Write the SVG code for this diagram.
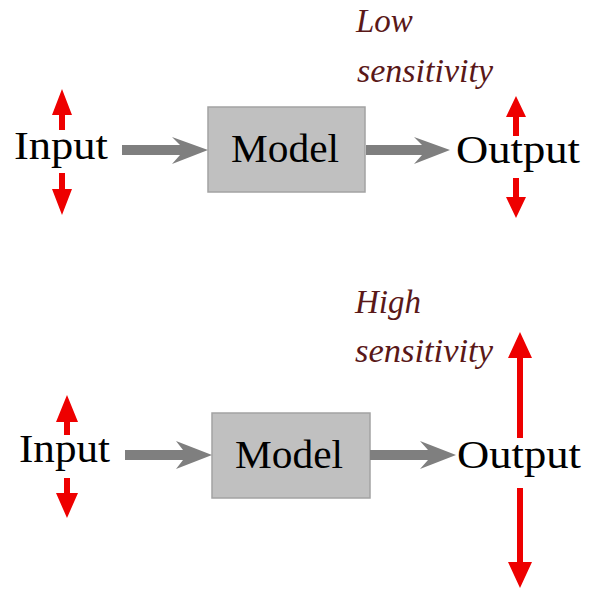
<svg xmlns="http://www.w3.org/2000/svg" width="589" height="589" viewBox="0 0 589 589">
<style>
.lbl{font-size:39px;fill:#000}
.sens{font-style:italic;font-size:33px;fill:#5a1818}
.box{fill:#c0c0c0;stroke:#a3a3a3;stroke-width:1.5}
.flow{fill:#7f7f7f}
.red{fill:#ee0000}
</style>
<rect width="589" height="589" fill="#fff"/>
<g font-family="Liberation Serif, Times New Roman, serif">
<!-- top panel -->
<g id="input1"><text class="lbl" x="14" y="159" textLength="94" lengthAdjust="spacingAndGlyphs">Input</text></g>
<g id="model1"><rect class="box" x="208" y="107" width="157" height="85"/><text class="lbl" x="231" y="162" textLength="108" lengthAdjust="spacingAndGlyphs">Model</text></g>
<g id="output1"><text class="lbl" x="456" y="163" textLength="124" lengthAdjust="spacingAndGlyphs">Output</text></g>
<g id="label1"><text class="sens" x="356" y="32">Low</text><text class="sens" x="357" y="82" textLength="136" lengthAdjust="spacingAndGlyphs">sensitivity</text></g>
<!-- bottom panel -->
<g id="input2"><text class="lbl" x="19" y="462" textLength="91" lengthAdjust="spacingAndGlyphs">Input</text></g>
<g id="model2"><rect class="box" x="212" y="413" width="158" height="85"/><text class="lbl" x="235" y="468" textLength="108" lengthAdjust="spacingAndGlyphs">Model</text></g>
<g id="output2"><text class="lbl" x="457" y="468" textLength="124" lengthAdjust="spacingAndGlyphs">Output</text></g>
<g id="label2"><text class="sens" x="355" y="313">High</text><text class="sens" x="355" y="362" textLength="138" lengthAdjust="spacingAndGlyphs">sensitivity</text></g>
</g>
<g id="connectors">
<polygon class="flow" points="122,145 180,145 172,137 208,150 172,164 180,155 122,155"/>
<polygon class="flow" points="366,145 422,145 414,137 450,150 414,164 422,155 366,155"/>
<polygon class="flow" points="125,450 183,450 176,441 212,455 176,469 183,460 125,460"/>
<polygon class="flow" points="370,450 428,450 420,441 456,455 420,469 428,460 370,460"/>
<!-- red sensitivity arrows -->
<polygon class="red" points="62,89 72,115 65,115 65,130 59,130 59,115 52,115"/>
<polygon class="red" points="62,215 72,189 65,189 65,173 59,173 59,189 52,189"/>
<polygon class="red" points="516,96 526,117 519,117 519,136 513,136 513,117 506,117"/>
<polygon class="red" points="516,218 526,197 519,197 519,178 513,178 513,197 506,197"/>
<polygon class="red" points="67,395 78,422 70,422 70,435 64,435 64,422 56,422"/>
<polygon class="red" points="67,518 78,493 70,493 70,478 64,478 64,493 56,493"/>
<polygon class="red" points="520,332 532,358 523,358 523,438 517,438 517,358 508,358"/>
<polygon class="red" points="520,588 532,562 523,562 523,488 517,488 517,562 508,562"/>
</g>
</svg>
